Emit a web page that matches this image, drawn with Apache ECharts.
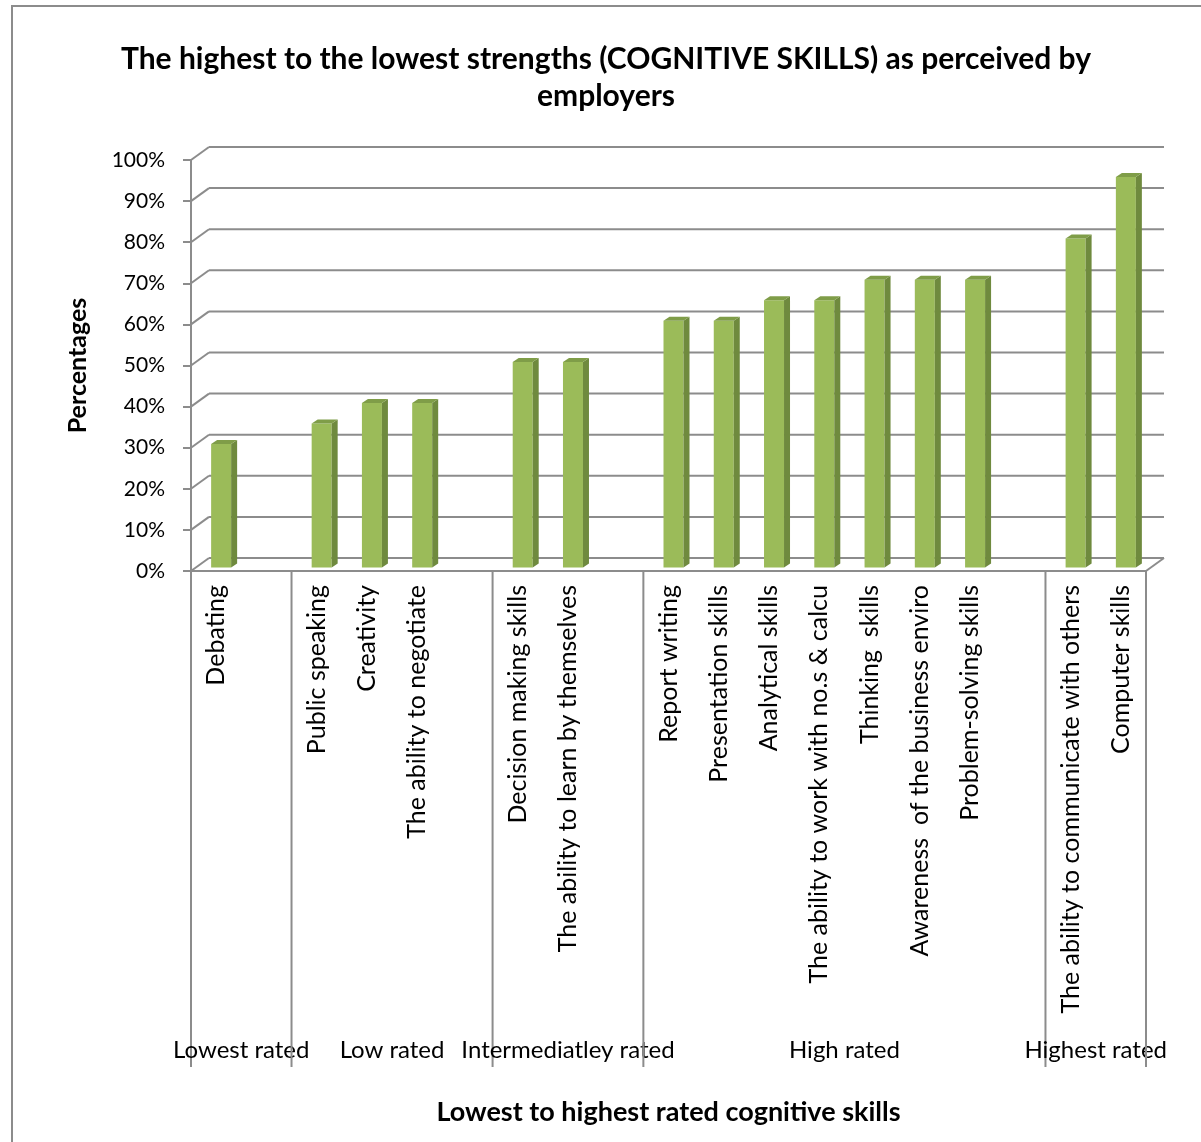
<!DOCTYPE html>
<html>
<head>
<meta charset="utf-8">
<title>Cognitive skills rated by employers</title>
<script src="https://cdn.jsdelivr.net/npm/echarts@6/dist/echarts.min.js"></script>
<style>
  html, body { margin: 0; padding: 0; background: #ffffff; }
  #chart { width: 1201px; height: 1142px; }
</style>
</head>
<body>
<div id="chart"></div>
<script>
// Skills along the category axis; empty names leave a gap slot after each group
const skills = [
  'Debating', '',
  'Public speaking', 'Creativity', 'The ability to negotiate', '',
  'Decision making skills', 'The ability to learn by themselves', '',
  'Report writing', 'Presentation skills', 'Analytical skills',
  'The ability to work with no.s & calcu', 'Thinking  skills',
  'Awareness  of the business enviro', 'Problem-solving skills', '',
  'The ability to communicate with others', 'Computer skills'
];
// Percentage per slot (null = gap)
const percentages = [
  30, null,
  35, 40, 40, null,
  50, 50, null,
  60, 60, 65, 65, 70, 70, 70, null,
  80, 95
];
// Rating groups: label, first slot, slot after last
const groupNames = ['Lowest rated', 'Low rated', 'Intermediatley rated', 'High rated', 'Highest rated'];
const groupStarts = [0, 2, 6, 9, 17];
const groupEnds = [2, 6, 9, 17, 19];
const yTicks = [0, 10, 20, 30, 40, 50, 60, 70, 80, 90, 100];

const FONT = 'Lato, "Open Sans", sans-serif';
const GRID_COLOR = '#8c8c8c';
// back wall offset of the pseudo-3D plot
const WALL_DX = 18, WALL_DY = -13;

const barData = [];
percentages.forEach((v, i) => { if (v !== null) barData.push([i, v]); });

const chart = echarts.init(document.getElementById('chart'));

chart.setOption({
  backgroundColor: '#ffffff',
  animation: false,
  title: {
    text: 'The highest to the lowest strengths (COGNITIVE SKILLS) as perceived by\nemployers',
    left: 601,
    top: 36,
    textAlign: 'center',
    textStyle: { fontFamily: FONT, fontWeight: 'bold', fontSize: 30, lineHeight: 37, color: '#000' }
  },
  graphic: [{
    type: 'rect',
    shape: { x: 12, y: 6, width: 1400, height: 1400 },
    style: { fill: 'none', stroke: '#8c8c8c', lineWidth: 2 },
    silent: true,
    z: -10
  }],
  grid: { left: 191, top: 160, width: 955, height: 411 },
  xAxis: {
    type: 'category',
    data: skills,
    name: 'Lowest to highest rated cognitive skills',
    nameLocation: 'middle',
    nameGap: 528,
    nameTextStyle: { fontFamily: FONT, fontWeight: 'bold', fontSize: 27, color: '#000' },
    axisLine: { lineStyle: { color: GRID_COLOR, width: 2 } },
    axisTick: { show: false },
    axisLabel: {
      interval: 0, rotate: 90, margin: 14,
      fontFamily: FONT, fontSize: 25, color: '#000'
    },
    splitLine: { show: false }
  },
  yAxis: {
    type: 'value',
    min: 0, max: 100, interval: 10,
    name: 'Percentages',
    nameLocation: 'middle',
    nameGap: 101,
    nameRotate: 90,
    nameTextStyle: { fontFamily: FONT, fontWeight: 'bold', fontSize: 25, color: '#000' },
    axisLine: { show: true, lineStyle: { color: GRID_COLOR, width: 2 } },
    axisTick: { show: true, length: 8, lineStyle: { color: GRID_COLOR, width: 2 } },
    axisLabel: {
      margin: 26, fontFamily: FONT, fontSize: 21, color: '#000',
      formatter: v => v + '%'
    },
    splitLine: { show: false }
  },
  series: [
    {
      // back wall gridlines with their slanted joins to the front axis
      type: 'custom',
      data: yTicks.map(v => [0, v]),
      silent: true,
      z: 1,
      renderItem: (params, api) => {
        const cs = params.coordSys;
        const v = api.value(1);
        const y = api.coord([0, v])[1];
        const x0 = cs.x, x1 = cs.x + cs.width;
        const children = [
          { type: 'line', shape: { x1: x0, y1: y, x2: x0 + WALL_DX, y2: y + WALL_DY },
            style: { stroke: GRID_COLOR, lineWidth: 2 } },
          { type: 'line', shape: { x1: x0 + WALL_DX, y1: y + WALL_DY, x2: x1 + WALL_DX, y2: y + WALL_DY },
            style: { stroke: GRID_COLOR, lineWidth: 2 } }
        ];
        if (v === 0) {
          children.push({ type: 'line', shape: { x1: x1, y1: y, x2: x1 + WALL_DX, y2: y + WALL_DY },
            style: { stroke: GRID_COLOR, lineWidth: 2 } });
        }
        return { type: 'group', children };
      }
    },
    {
      // group dividers and group labels under the category axis
      type: 'custom',
      data: groupNames.map((n, i) => [groupStarts[i], groupEnds[i]]),
      silent: true,
      z: 1,
      renderItem: (params, api) => {
        const slot = api.size([1, 0])[0];
        const s = groupStarts[params.dataIndex], e = groupEnds[params.dataIndex];
        const base = api.coord([s, 0]);
        const xs = base[0] - slot / 2;
        const xe = api.coord([e, 0])[0] - slot / 2;
        const y0 = base[1];
        const children = [
          { type: 'line', shape: { x1: xs, y1: y0, x2: xs, y2: y0 + 496 },
            style: { stroke: GRID_COLOR, lineWidth: 2 } },
          { type: 'text', x: (xs + xe) / 2, y: y0 + 479,
            style: { text: groupNames[params.dataIndex], fill: '#000', fontFamily: FONT, fontSize: 24,
                     align: 'center', verticalAlign: 'middle' } }
        ];
        if (params.dataIndex === groupNames.length - 1) {
          children.push({ type: 'line', shape: { x1: xe, y1: y0, x2: xe, y2: y0 + 496 },
            style: { stroke: GRID_COLOR, lineWidth: 2 } });
        }
        return { type: 'group', children };
      }
    },
    {
      // pseudo-3D columns: front face, right side and top
      type: 'custom',
      data: barData,
      z: 5,
      renderItem: (params, api) => {
        const base = api.coord([api.value(0), 0]);
        const top = api.coord([api.value(0), api.value(1)]);
        const w = 20, dx = 5, dy = -3.6, sx = 6, sy = -4;
        const xl = base[0] + dx - w / 2, xr = xl + w;
        const yb = base[1] + dy, yt = top[1] + dy;
        return {
          type: 'group',
          children: [
            { type: 'rect', shape: { x: xl, y: yt, width: w, height: yb - yt },
              style: { fill: '#9BBB59' } },
            { type: 'polygon', shape: { points: [[xr, yt], [xr + sx, yt + sy], [xr + sx, yb + sy], [xr, yb]] },
              style: { fill: '#6F8A3E' } },
            { type: 'polygon', shape: { points: [[xl, yt], [xr, yt], [xr + sx, yt + sy], [xl + sx, yt + sy]] },
              style: { fill: '#7F9D48' } }
          ]
        };
      }
    }
  ]
});
</script>
</body>
</html>
